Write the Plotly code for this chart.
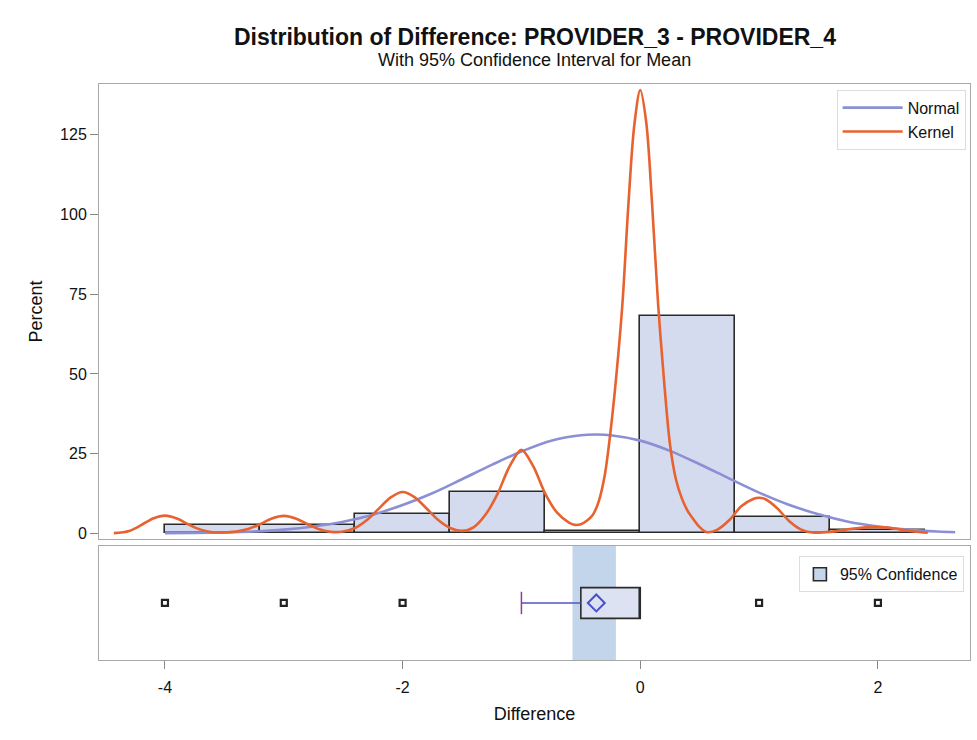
import plotly.graph_objects as go
from plotly.subplots import make_subplots

# ---------------- data ----------------
bin_centers = [-3.6, -2.8, -2.0, -1.2, -0.4, 0.4, 1.2, 2.0]
bin_width = 0.8
bin_percent = [2.6, 2.5, 6.0, 13.0, 0.9, 68.3, 5.3, 1.1]

normal_x = [-4.0, -3.75, -3.5, -3.25, -3.0, -2.75, -2.5, -2.25, -2.0, -1.75, -1.5,
            -1.25, -1.0, -0.75, -0.5, -0.37, -0.25, 0.0, 0.25, 0.5, 0.75, 1.0,
            1.25, 1.5, 1.75, 2.0, 2.25, 2.5, 2.65]
normal_y = [0.1, 0.15, 0.3, 0.6, 1.2, 2.2, 3.7, 5.9, 8.9, 12.6, 17.0,
            21.5, 25.7, 29.1, 30.8, 31.0, 30.8, 29.1, 25.9, 21.7, 17.2, 12.8,
            9.0, 6.0, 3.7, 2.2, 1.2, 0.6, 0.4]

kernel_x = [-4.43, -4.3, -4.2, -4.1, -4.0, -3.9, -3.8, -3.7, -3.6, -3.5, -3.4,
            -3.3, -3.2, -3.1, -3.0, -2.9, -2.8, -2.7, -2.6, -2.5, -2.4, -2.3,
            -2.2, -2.1, -2.0, -1.9, -1.8, -1.7, -1.6, -1.5, -1.4, -1.3, -1.2,
            -1.1, -1.0, -0.9, -0.8, -0.7, -0.6, -0.55, -0.5, -0.45, -0.4, -0.35,
            -0.3, -0.25, -0.2, -0.15, -0.1, -0.05, 0.0, 0.05, 0.1, 0.15, 0.2,
            0.25, 0.3, 0.35, 0.4, 0.45, 0.5, 0.56, 0.65, 0.75, 0.85, 0.95, 1.0,
            1.05, 1.15, 1.25, 1.35, 1.45, 1.6, 1.75, 1.9, 2.0, 2.1, 2.2, 2.3, 2.42]
kernel_y = [0.1, 0.8, 2.6, 4.7, 5.6, 4.7, 2.8, 1.2, 0.4, 0.3, 0.6,
            1.4, 2.9, 4.7, 5.5, 4.7, 2.9, 1.3, 0.5, 0.6, 1.7, 4.2,
            7.8, 11.3, 13.0, 11.4, 7.9, 4.2, 1.7, 0.8, 2.0, 6.0, 12.5,
            21.0, 26.2, 21.0, 12.5, 6.5, 3.4, 2.7, 2.9, 4.0, 5.8, 10.0,
            18.0, 32.0, 50.0, 72.0, 103.0, 128.0, 139.0, 129.0, 103.0, 72.0, 48.0,
            28.0, 17.0, 11.0, 7.0, 4.3, 2.0, 0.4, 1.2, 4.2, 8.5, 10.8, 11.2,
            10.8, 8.0, 4.0, 1.3, 0.3, 0.5, 1.3, 1.9, 2.0, 1.8, 1.2, 0.6, 0.2]

box_q1 = -0.5
box_median = 0.0
box_q3 = 0.0
whisker_low = -1.0
mean_value = -0.37
ci_low = -0.57
ci_high = -0.205
outliers = [-4, -3, -2, 1, 2]

title_text = "Distribution of Difference: PROVIDER_3 - PROVIDER_4"
subtitle_text = "With 95% Confidence Interval for Mean"
x_ticks = [-4, -2, 0, 2]
x_tick_labels = ["-4", "-2", "0", "2"]
y_ticks = [0, 25, 50, 75, 100, 125]

# ---------------- styles ----------------
FONT = "Liberation Sans, Arial, sans-serif"
BAR_FILL = "#d5dbef"
EDGE = "#2a2a2a"
NORMAL_C = "#8b8fd3"
KERNEL_C = "#e8622f"
FRAME = "#a8a8a8"
CAP_C = "#9a3a8e"

fig = make_subplots(rows=2, cols=1, shared_xaxes=True, vertical_spacing=0.0)

fig.add_trace(go.Bar(x=bin_centers, y=bin_percent, width=bin_width,
                     marker=dict(color=BAR_FILL, line=dict(color=EDGE, width=1.6)),
                     showlegend=False, hoverinfo="x+y"), row=1, col=1)
fig.add_trace(go.Scatter(x=normal_x, y=normal_y, mode="lines", name="Normal",
                         line=dict(color=NORMAL_C, width=2.6, shape="spline"),
                         legend="legend"), row=1, col=1)
fig.add_trace(go.Scatter(x=kernel_x, y=kernel_y, mode="lines", name="Kernel",
                         line=dict(color=KERNEL_C, width=2.6, shape="spline", smoothing=0.9),
                         legend="legend"), row=1, col=1)

# bottom panel
fig.add_trace(go.Box(q1=[box_q1], median=[box_median], q3=[box_q3],
                     lowerfence=[box_q1], upperfence=[box_q3], y=[0.5],
                     orientation="h", width=0.27, fillcolor="#dde2f3",
                     line=dict(color=EDGE, width=1.6), showlegend=False,
                     hoverinfo="skip"), row=2, col=1)
fig.add_trace(go.Scatter(x=[whisker_low, box_q1], y=[0.5, 0.5], mode="lines",
                         line=dict(color="#4f55c4", width=1.5), showlegend=False,
                         hoverinfo="skip"), row=2, col=1)
fig.add_trace(go.Scatter(x=[whisker_low], y=[0.5], mode="markers",
                         marker=dict(symbol="line-ns-open", size=16, color=CAP_C,
                                     line=dict(color=CAP_C, width=1.5)),
                         showlegend=False, hoverinfo="skip"), row=2, col=1)
fig.add_trace(go.Scatter(x=[mean_value], y=[0.5], mode="markers",
                         marker=dict(symbol="diamond-open", size=13,
                                     color="#4a50c8", line=dict(width=2)),
                         showlegend=False), row=2, col=1)
fig.add_trace(go.Scatter(x=outliers, y=[0.5] * len(outliers), mode="markers",
                         marker=dict(symbol="square-open", size=6, color="#222",
                                     line=dict(width=2.2)),
                         showlegend=False), row=2, col=1)
fig.add_trace(go.Scatter(x=[None], y=[None], mode="markers", name="95% Confidence",
                         marker=dict(symbol="square", size=13, color="#c6d6ea",
                                     line=dict(color=EDGE, width=1.6)),
                         legend="legend2"), row=2, col=1)

fig.add_shape(type="rect", xref="x2", yref="y2 domain", x0=ci_low, x1=ci_high,
              y0=0, y1=1, fillcolor="#c2d5ea", line=dict(width=0), layer="below")

fig.update_layout(
    width=977, height=740,
    margin=dict(l=99, r=7, t=84, b=80),
    paper_bgcolor="white", plot_bgcolor="white",
    font=dict(family=FONT, size=16, color="#111"),
    barmode="overlay", bargap=0,
    legend=dict(x=0.995, y=0.99, xanchor="right", yanchor="top",
                bordercolor="#dddddd", borderwidth=1, bgcolor="white",
                font=dict(size=16), tracegroupgap=0, itemwidth=60),
    legend2=dict(x=0.993, y=0.18, xanchor="right", yanchor="top",
                 bordercolor="#dddddd", borderwidth=1, bgcolor="white",
                 font=dict(size=16)),
    annotations=[
        dict(text="<b>" + title_text + "</b>", x=0.5, y=1.0816, xref="paper", yref="paper",
             xanchor="center", yanchor="middle", showarrow=False,
             font=dict(size=23, family=FONT, color="#111")),
        dict(text=subtitle_text, x=0.5, y=1.0417, xref="paper", yref="paper",
             xanchor="center", yanchor="middle", showarrow=False,
             font=dict(size=18, family=FONT, color="#111")),
    ],
)

xrange = [-4.555, 2.775]
fig.update_xaxes(range=xrange, showline=True, mirror=True, linecolor=FRAME,
                 linewidth=1, showgrid=False, zeroline=False)
fig.update_xaxes(showticklabels=False, ticks="", row=1, col=1)
fig.update_xaxes(tickvals=x_ticks, ticktext=x_tick_labels, ticks="outside", ticklen=8,
                 tickcolor="#888", tickfont=dict(size=16), ticklabelstandoff=5,
                 title=dict(text="Difference", font=dict(size=18), standoff=12),
                 row=2, col=1)
fig.update_yaxes(range=[-1.75, 140.9], tickvals=y_ticks, ticks="outside", ticklen=8,
                 tickcolor="#888", tickfont=dict(size=16), showline=True, mirror=True,
                 linecolor=FRAME, showgrid=False, zeroline=False,
                 title=dict(text="Percent", font=dict(size=18), standoff=12),
                 domain=[0.21, 1.0], row=1, col=1)
fig.update_yaxes(range=[0, 1], showticklabels=False, ticks="", showline=True, mirror=True,
                 linecolor=FRAME, showgrid=False, zeroline=False,
                 domain=[0.0, 0.198], row=2, col=1)

fig.write_html("out.html")
